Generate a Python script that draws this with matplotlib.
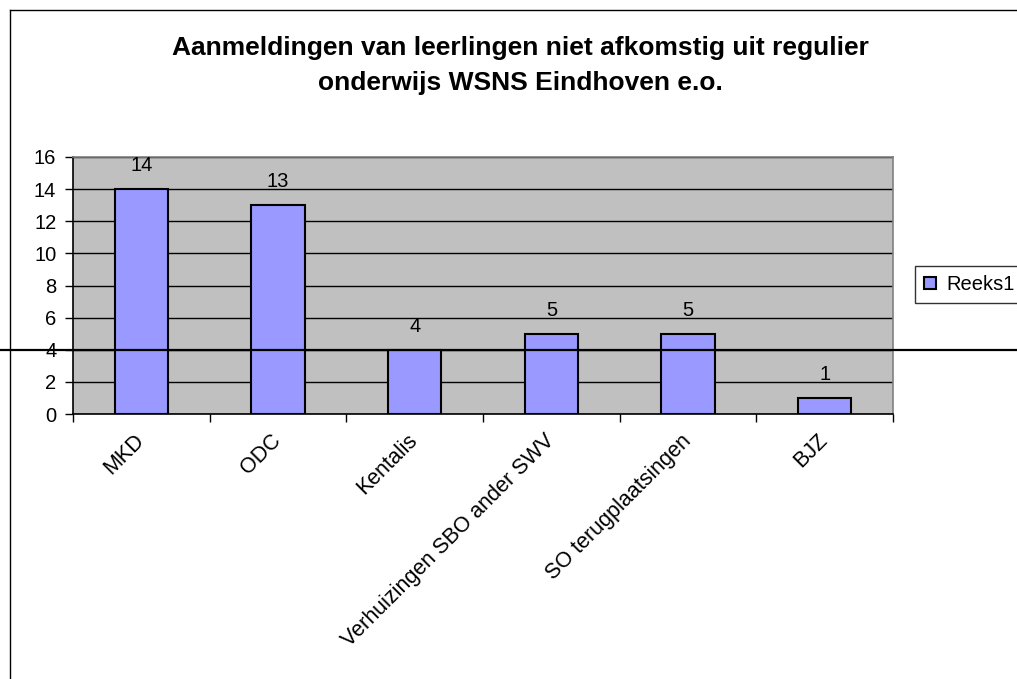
import matplotlib
matplotlib.use("Agg")
import matplotlib.pyplot as plt
from matplotlib.lines import Line2D

plt.rcParams['font.family'] = ['Liberation Sans', 'DejaVu Sans']

categories = ["MKD", "ODC", "Kentalis", "Verhuizingen SBO ander SWV",
              "SO terugplaatsingen", "BJZ"]
values = [14, 13, 4, 5, 5, 1]
series_name = "Reeks1"
title_lines = ["Aanmeldingen van leerlingen niet afkomstig uit regulier",
               "onderwijs WSNS Eindhoven e.o."]
yticks = [0, 2, 4, 6, 8, 10, 12, 14, 16]

W, H = 1017, 679
fig = plt.figure(figsize=(W / 100, H / 100), dpi=100)
fig.patch.set_facecolor("white")

left, right, top, bottom = 73, 893, 157, 414
ax = fig.add_axes([left / W, 1 - bottom / H, (right - left) / W, (bottom - top) / H])
ax.set_facecolor("#C0C0C0")
ax.set_axisbelow(True)

x = list(range(len(categories)))
bars = ax.bar(x, values, width=0.39, color="#9999FF", edgecolor="black",
              linewidth=1.5, label=series_name, zorder=3)
ax.bar_label(bars, labels=[str(v) for v in values], padding=10, fontsize=14.5)

ax.set_xlim(-0.5, len(categories) - 0.5)
ax.set_ylim(0, 16)
ax.set_yticks(yticks)
ax.set_yticklabels([str(t) for t in yticks], fontsize=14.5)
ax.yaxis.grid(True, color="black", linewidth=1)
ax.xaxis.grid(False)

ax.set_xticks([i - 0.5 for i in range(len(categories) + 1)])
ax.set_xticklabels([])
ax.set_xticks(x, minor=True)
ax.set_xticklabels(categories, minor=True, rotation=45, ha="right",
                   va="center", rotation_mode="anchor", fontsize=15.5)
ax.tick_params(axis="x", which="minor", length=0, pad=17)
ax.tick_params(axis="x", which="major", length=6, width=1, direction="out")
ax.tick_params(axis="y", length=6, width=1, direction="out", pad=6)

for s in ["left", "bottom"]:
    ax.spines[s].set_color("black")
    ax.spines[s].set_linewidth(1.2)
for s in ["top", "right"]:
    ax.spines[s].set_color("#808080")
    ax.spines[s].set_linewidth(1.2)

fig.text(520 / W, 1 - 55 / H, title_lines[0], ha="center", va="baseline",
         fontsize=19, fontweight="bold")
fig.text(520 / W, 1 - 90 / H, title_lines[1], ha="center", va="baseline",
         fontsize=19, fontweight="bold")

leg = ax.legend(loc="upper left", bbox_to_anchor=(915 / W, 1 - 266 / H),
                bbox_transform=fig.transFigure, borderaxespad=0,
                fontsize=14.5, frameon=True, fancybox=False, edgecolor="black",
                handlelength=0.6, handleheight=0.6, handletextpad=0.5,
                borderpad=0.45)
leg.get_frame().set_linewidth(1)

# chart frame and crossing line
fig.add_artist(Line2D([10 / W, 10 / W], [0, 1 - 10 / H], color="black",
                      linewidth=1, transform=fig.transFigure))
fig.add_artist(Line2D([10 / W, 1], [1 - 10 / H, 1 - 10 / H], color="black",
                      linewidth=1, transform=fig.transFigure))
fig.add_artist(Line2D([0, 1], [1 - 350 / H, 1 - 350 / H], color="black",
                      linewidth=1.6, transform=fig.transFigure, zorder=10))

fig.savefig("out.png", dpi=100)
